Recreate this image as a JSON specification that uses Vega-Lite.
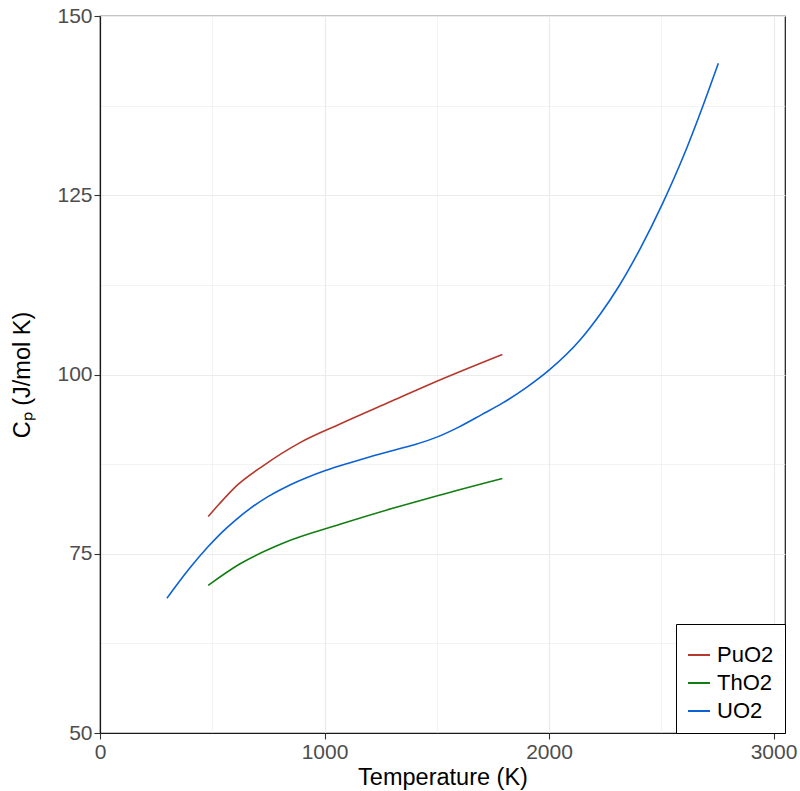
{
  "$schema": "https://vega.github.io/schema/vega-lite/v6.json",
  "width": 685,
  "height": 717,
  "autosize": "none",
  "padding": {"left": 100, "top": 16, "right": 15, "bottom": 58},
  "background": "white",
  "config": {
    "font": "Liberation Sans",
    "view": {"stroke": "#1a1a1a", "strokeWidth": 1.2},
    "axis": {
      "labelFont": "Liberation Sans",
      "titleFont": "Liberation Sans",
      "labelColor": "#4d4d4d",
      "labelFontSize": 21,
      "titleFontSize": 23.5,
      "titleFontWeight": "normal",
      "titleColor": "black",
      "domainColor": "#1a1a1a",
      "domainWidth": 1.2,
      "tickColor": "#333333",
      "tickSize": 6,
      "tickWidth": 1.1,
      "labelPadding": 2,
      "gridColor": "#ebebeb"
    },
    "legend": {
      "labelFont": "Liberation Sans",
      "labelFontSize": 22,
      "labelColor": "black",
      "symbolType": "stroke",
      "symbolSize": 484,
      "symbolStrokeWidth": 2,
      "strokeColor": "black",
      "fillColor": "white",
      "padding": 11,
      "labelOffset": 6,
      "rowPadding": 5,
      "titleFontSize": 6,
      "titlePadding": 2
    }
  },
  "data": {
    "values": [
      {"material": "UO2", "T": 298, "Cp": 68.8},
      {"material": "UO2", "T": 350, "Cp": 71.0},
      {"material": "UO2", "T": 400, "Cp": 73.0},
      {"material": "UO2", "T": 482, "Cp": 76.0},
      {"material": "UO2", "T": 550, "Cp": 78.2},
      {"material": "UO2", "T": 600, "Cp": 79.6},
      {"material": "UO2", "T": 668, "Cp": 81.3},
      {"material": "UO2", "T": 750, "Cp": 83.0},
      {"material": "UO2", "T": 846, "Cp": 84.6},
      {"material": "UO2", "T": 920, "Cp": 85.6},
      {"material": "UO2", "T": 1004, "Cp": 86.6},
      {"material": "UO2", "T": 1114, "Cp": 87.7},
      {"material": "UO2", "T": 1200, "Cp": 88.5},
      {"material": "UO2", "T": 1292, "Cp": 89.3},
      {"material": "UO2", "T": 1400, "Cp": 90.2},
      {"material": "UO2", "T": 1503, "Cp": 91.3},
      {"material": "UO2", "T": 1600, "Cp": 92.7},
      {"material": "UO2", "T": 1700, "Cp": 94.4},
      {"material": "UO2", "T": 1792, "Cp": 96.0},
      {"material": "UO2", "T": 1900, "Cp": 98.2},
      {"material": "UO2", "T": 2004, "Cp": 100.7},
      {"material": "UO2", "T": 2138, "Cp": 104.8},
      {"material": "UO2", "T": 2230, "Cp": 108.5},
      {"material": "UO2", "T": 2309, "Cp": 112.2},
      {"material": "UO2", "T": 2405, "Cp": 117.5},
      {"material": "UO2", "T": 2505, "Cp": 123.8},
      {"material": "UO2", "T": 2598, "Cp": 130.4},
      {"material": "UO2", "T": 2687, "Cp": 137.6},
      {"material": "UO2", "T": 2754, "Cp": 143.4},
      {"material": "PuO2", "T": 482, "Cp": 80.2},
      {"material": "PuO2", "T": 530, "Cp": 81.9},
      {"material": "PuO2", "T": 609, "Cp": 84.5},
      {"material": "PuO2", "T": 728, "Cp": 87.3},
      {"material": "PuO2", "T": 891, "Cp": 90.5},
      {"material": "PuO2", "T": 1069, "Cp": 93.1},
      {"material": "PuO2", "T": 1300, "Cp": 96.3},
      {"material": "PuO2", "T": 1503, "Cp": 99.1},
      {"material": "PuO2", "T": 1792, "Cp": 102.8},
      {"material": "ThO2", "T": 482, "Cp": 70.6},
      {"material": "ThO2", "T": 624, "Cp": 73.6},
      {"material": "ThO2", "T": 817, "Cp": 76.5},
      {"material": "ThO2", "T": 1069, "Cp": 79.1},
      {"material": "ThO2", "T": 1300, "Cp": 81.3},
      {"material": "ThO2", "T": 1503, "Cp": 83.1},
      {"material": "ThO2", "T": 1792, "Cp": 85.5}
    ]
  },
  "mark": {"type": "line", "interpolate": "monotone", "strokeWidth": 1.6},
  "encoding": {
    "x": {
      "field": "T",
      "type": "quantitative",
      "title": "Temperature (K)",
      "scale": {"domain": [0, 3051], "nice": false, "zero": false},
      "axis": {
        "values": [0, 500, 1000, 1500, 2000, 2500, 3000],
        "format": "d",
        "labelExpr": "datum.value % 1000 === 0 ? datum.label : ''",
        "tickOpacity": {"condition": {"test": "datum.value % 1000 === 0", "value": 1}, "value": 0},
        "gridWidth": {"condition": {"test": "datum.value % 1000 === 0", "value": 1.2}, "value": 0.6},
        "titlePadding": 3,
        "labelFlush": false
      }
    },
    "y": {
      "field": "Cp",
      "type": "quantitative",
      "title": "Cₚ (J/mol K)",
      "scale": {"domain": [50, 150], "nice": false, "zero": false},
      "axis": {
        "values": [50, 62.5, 75, 87.5, 100, 112.5, 125, 137.5, 150],
        "format": "d",
        "labelExpr": "datum.value % 25 === 0 ? datum.label : ''",
        "tickOpacity": {"condition": {"test": "datum.value % 25 === 0", "value": 1}, "value": 0},
        "gridWidth": {"condition": {"test": "datum.value % 25 === 0", "value": 1.2}, "value": 0.6},
        "titlePadding": 22,
        "labelFlush": false
      }
    },
    "color": {
      "field": "material",
      "type": "nominal",
      "scale": {"domain": ["PuO2", "ThO2", "UO2"], "range": ["#b5382b", "#127d12", "#0b62d6"]},
      "legend": {"orient": "bottom-right", "offset": 0, "title": " "}
    }
  }
}
